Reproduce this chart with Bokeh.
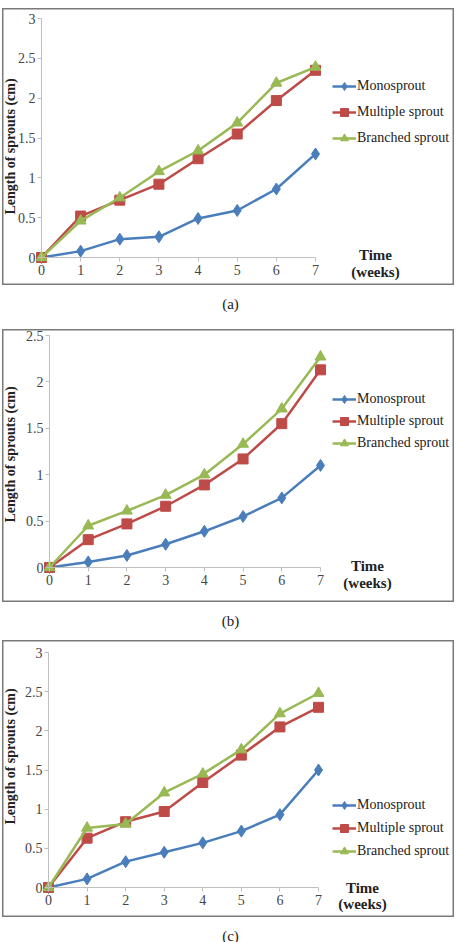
import math

from bokeh.plotting import figure
from bokeh.layouts import column
from bokeh.models import Range1d, FixedTicker, Legend, LegendItem, Label
from bokeh.embed import file_html
from bokeh.resources import INLINE

# ---- data -------------------------------------------------------------
weeks = [0, 1, 2, 3, 4, 5, 6, 7]
series_names = ["Monosprout", "Multiple sprout", "Branched sprout"]

a_mono = [0, 0.08, 0.23, 0.26, 0.49, 0.59, 0.86, 1.30]
a_multi = [0, 0.52, 0.72, 0.92, 1.24, 1.55, 1.97, 2.35]
a_branched = [0, 0.46, 0.75, 1.08, 1.34, 1.69, 2.19, 2.39]

b_mono = [0, 0.06, 0.13, 0.25, 0.39, 0.55, 0.75, 1.10]
b_multi = [0, 0.30, 0.47, 0.66, 0.89, 1.17, 1.55, 2.13]
b_branched = [0, 0.45, 0.61, 0.78, 1.00, 1.33, 1.71, 2.27]

c_mono = [0, 0.11, 0.33, 0.45, 0.57, 0.72, 0.93, 1.50]
c_multi = [0, 0.63, 0.84, 0.97, 1.34, 1.69, 2.05, 2.30]
c_branched = [0, 0.76, 0.81, 1.21, 1.45, 1.76, 2.22, 2.48]

yticks_3 = [0, 0.5, 1, 1.5, 2, 2.5, 3]
ylabels_3 = ["0", "0.5", "1", "1.5", "2", "2.5", "3"]
yticks_25 = [0, 0.5, 1, 1.5, 2, 2.5]
ylabels_25 = ["0", "0.5", "1", "1.5", "2", "2.5"]

y_title = "Length of sprouts (cm)"
x_title = ["Time", "(weeks)"]
captions = ["(a)", "(b)", "(c)"]

# ---- style ------------------------------------------------------------
SERIF = "'Liberation Serif', 'Times New Roman', serif"
COLORS = ["#4A7EBB", "#BE4B48", "#98B954"]
MARKERS = ["diamond", "square", "triangle"]
MSIZES = [12, 10, 11]
AXIS_GREY = "#BFBFBF"
TEXT = "#222222"
W = 452
LEFT = 2  # page x of every panel's left edge


def panel(mono, multi, branched, yticks, ylabels, top, height,
          x0_px, x7_px, y0_px, ytop_px, legend_px, legend_spacing,
          ylab_px, time_px):
    """One boxed chart.  The *_px arguments are page pixel positions."""
    ymax = yticks[-1]
    # pixel -> data mapping so that the plotting frame fills the whole box
    ux = (x7_px - x0_px) / 7.0
    uy = (y0_px - ytop_px) / ymax
    xs = -(x0_px - LEFT) / ux
    xe = 7 + (LEFT + W - x7_px) / ux
    ye = ymax + (ytop_px - top) / uy
    ys_ = -(top + height - y0_px) / uy

    def dx(px):
        return xs + (px - LEFT) / ux

    def dy(py):
        return ye - (py - top) / uy

    p = figure(width=W, height=height, output_backend="svg",
               toolbar_location=None,
               x_range=Range1d(xs, xe), y_range=Range1d(ys_, ye),
               min_border=0, margin=(0, 0, 0, LEFT))
    p.grid.visible = False
    p.outline_line_color = "#7a7a7a"
    p.outline_line_width = 2
    p.background_fill_color = "white"
    p.border_fill_color = "white"

    for ax in (p.xaxis[0], p.yaxis[0]):
        ax.axis_line_color = AXIS_GREY
        ax.major_tick_line_color = AXIS_GREY
        ax.minor_tick_line_color = None
        ax.major_tick_in = 0
        ax.major_tick_out = 4
        ax.major_label_text_font = SERIF
        ax.major_label_text_font_size = "14px"
        ax.major_label_text_color = "#444444"

    p.xaxis.fixed_location = 0
    p.xaxis.bounds = (0, 7)
    p.xaxis.ticker = FixedTicker(ticks=weeks)
    p.xaxis.major_label_standoff = 3

    p.yaxis.fixed_location = 0
    p.yaxis.bounds = (0, ymax)
    p.yaxis.ticker = FixedTicker(ticks=yticks)
    p.yaxis.major_label_overrides = {t: s for t, s in zip(yticks, ylabels)}
    p.yaxis.major_label_standoff = 2

    items = []
    for name, vals, col, mk, ms in zip(series_names, [mono, multi, branched],
                                       COLORS, MARKERS, MSIZES):
        ln = p.line(weeks, vals, line_color=col, line_width=2.5)
        sc = p.scatter(weeks, vals, marker=mk, size=ms, fill_color=col,
                       line_color=col)
        items.append(LegendItem(label=name, renderers=[ln, sc]))

    legend = Legend(items=items,
                    location=(legend_px[0] - LEFT, top + height - legend_px[1]),
                    orientation="vertical",
                    glyph_width=24, glyph_height=20, label_height=20,
                    spacing=legend_spacing, padding=0, margin=0,
                    label_standoff=1, border_line_color=None,
                    background_fill_alpha=0,
                    label_text_font=SERIF, label_text_font_size="14px",
                    label_text_color=TEXT)
    p.add_layout(legend, "center")

    p.add_layout(Label(x=dx(ylab_px[0]), y=dy(ylab_px[1]), text=y_title,
                       angle=math.pi / 2, text_align="center",
                       text_baseline="middle", text_font=SERIF,
                       text_font_style="bold", text_font_size="14px",
                       text_color=TEXT))
    for txt, py in zip(x_title, time_px[1:]):
        p.add_layout(Label(x=dx(time_px[0]), y=dy(py), text=txt,
                           text_align="center", text_baseline="middle",
                           text_font=SERIF, text_font_style="bold",
                           text_font_size="15px", text_color=TEXT))
    return p


def caption(text, height, text_top):
    c = figure(width=460, height=height, output_backend="svg",
               toolbar_location=None, x_range=Range1d(0, 460),
               y_range=Range1d(0, height), min_border=0)
    c.axis.visible = False
    c.grid.visible = False
    c.outline_line_color = None
    c.add_layout(Label(x=230, y=height - text_top, text=text,
                       text_align="center", text_baseline="middle",
                       text_font=SERIF, text_font_size="15px",
                       text_color=TEXT))
    return c


# (legend bottom-left: page x, page y of legend bottom edge)
pa = panel(a_mono, a_multi, a_branched, yticks_3, ylabels_3,
           top=8, height=277, x0_px=41, x7_px=315, y0_px=257, ytop_px=18,
           legend_px=(332, 148), legend_spacing=6,
           ylab_px=(10, 146), time_px=(375, 254, 271))
pa.margin = (8, 0, 0, LEFT)
pb = panel(b_mono, b_multi, b_branched, yticks_25, ylabels_25,
           top=329, height=273, x0_px=49, x7_px=320, y0_px=567, ytop_px=335,
           legend_px=(332, 453), legend_spacing=2,
           ylab_px=(10, 454), time_px=(367, 565, 582))
pc = panel(c_mono, c_multi, c_branched, yticks_3, ylabels_3,
           top=640, height=277, x0_px=48, x7_px=318, y0_px=887, ytop_px=652,
           legend_px=(332, 861), legend_spacing=3,
           ylab_px=(10, 756), time_px=(362, 887, 903))

layout = column(pa, caption(captions[0], 44, 18),
                pb, caption(captions[1], 38, 18),
                pc, caption(captions[2], 25, 18),
                spacing=0)

open("out.html", "w").write(file_html(layout, INLINE))
